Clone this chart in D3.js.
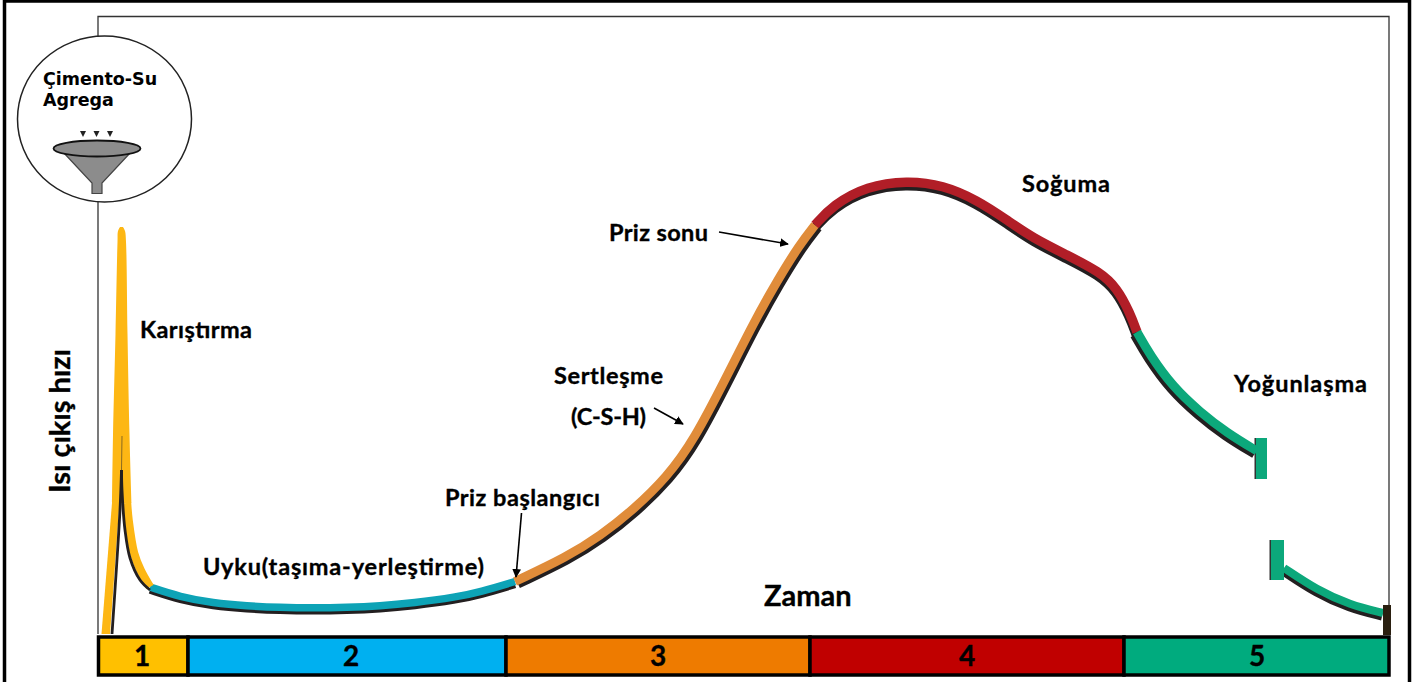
<!DOCTYPE html>
<html>
<head>
<meta charset="utf-8">
<script src="https://cdn.jsdelivr.net/npm/d3@7"></script>
<style>
    html, body { margin: 0; padding: 0; background: #fff; }
    svg { display: block; }
    text { font-family: Lato, "Open Sans", sans-serif; font-weight: 700; fill: #000; stroke: #000; stroke-width: 0.35px; }
</style>
</head>
<body>
<div id="chart"></div>
<script>
// Values. Time and heat are in arbitrary units (no ticks on the original)
const stageNames = ["1", "2", "3", "4", "5"];
const stageEdges = [1.5, 91, 409, 713, 1027, 1292];
const stageLabelTime = [45, 254, 561, 870, 1160];
const stageColors = ["#FFC000", "#00B0F0", "#EE7B00", "#C00000", "#00AB7E"];

const dormantTime = [53, 83, 116, 150, 183, 216, 250, 283, 316, 360, 383, 418];
const dormantHeat = [47, 37, 31, 28, 26.5, 26, 26.5, 28, 31, 37, 42, 52.5];
const hardenTime = [418, 470, 503, 536, 570, 597, 630, 656, 680, 703, 718];
const hardenHeat = [52.5, 77, 98, 124, 157, 194, 258, 310, 353, 390, 409];
const coolTime = [718, 736, 770, 810, 846, 880, 910, 936, 970, 1003, 1020, 1033, 1040];
const coolHeat = [409, 429, 448, 453.5, 449, 434, 414, 396, 379, 362, 346, 321, 302];
const denseTime = [1040, 1053, 1076, 1103, 1130, 1160];
const denseHeat = [302, 279, 247, 222, 201, 183];
const lateTime = [1187, 1220, 1253, 1286];
const lateHeat = [66, 44, 29, 21];

// mixing peak: edges of the wide yellow band
const peakHeat = [407, 403, 392, 300, 199, 131];
const peakLeft = [23, 21, 20.5, 18.5, 16, 15];
const peakRight = [26, 28, 29, 30.5, 32.5, 34.5];
const riseHeat = [131, 0];
const riseLeft = [15, 4.5];
const riseRight = [22.5, 13];
const fallTime = [30, 31.5, 37, 43.5, 53];
const fallHeat = [131, 114, 81, 64, 47];
const blackRiseTime = [15, 23, 24.5];
const blackRiseHeat = [0, 124, 164];
const blackFallTime = [24.5, 25, 28, 33, 43, 53];
const blackFallHeat = [164, 144, 104, 76, 54, 44];

// break in the time axis: [t0, t1, h0, h1]
const breakBars = [[1159, 1170, 155, 196], [1174, 1187, 54, 94]];

const labelTexts = ["Karıştırma", "Uyku(taşıma-yerleştirme)", "Priz başlangıcı", "Priz sonu", "Sertleşme", "(C-S-H)", "Soğuma", "Yoğunlaşma"];
const labelX = [140, 203, 445, 609, 554, 571, 1022, 1234];
const labelY = [338, 575, 506, 241, 384, 425, 192, 392];
const labelWidth = [112, 281, 155, 99, 109, 75, 88, 133];
// arrows: x1, y1, x2, y2
const arrows = [[719, 232, 788, 244], [521.5, 513, 516, 577], [654, 408, 683, 424]];

const svg = d3.select("#chart")
    .append("svg")
    .attr("width", 1426)
    .attr("height", 682);

const xScale = d3.scaleLinear().domain([0, 1292]).range([97, 1389]);
const yScale = d3.scaleLinear().domain([0, 406]).range([634, 228]);

const line = d3.line()
    .x(d => xScale(d[0]))
    .y(d => yScale(d[1]))
    .curve(d3.curveCatmullRom);

const smoothLine = d3.line()
    .x(d => xScale(d[0]))
    .y(d => yScale(d[1]))
    .curve(d3.curveBasis);

const band = d3.area()
    .y(d => yScale(d[0]))
    .x0(d => xScale(d[1]))
    .x1(d => xScale(d[2]))
    .curve(d3.curveCatmullRom);

//Outer picture border
svg.append("path")
    .attr("d", "M4.5,682V1H1409.5V682")
    .attr("fill", "none")
    .attr("stroke", "#000")
    .attr("stroke-width", 3.5);

//Plot frame
svg.append("path")
    .attr("d", "M98,634V16.5H1389V606")
    .attr("fill", "none")
    .attr("stroke", "#333")
    .attr("stroke-width", 1.3);

//Mixer circle with funnel
svg.append("ellipse")
    .attr("cx", 104.5).attr("cy", 119).attr("rx", 87).attr("ry", 83)
    .attr("fill", "#fff")
    .attr("stroke", "#222")
    .attr("stroke-width", 1.5);

["Çimento-Su", "Agrega"].forEach((t, i) => {
    svg.append("text")
        .attr("x", 43)
        .attr("y", i == 0 ? 85 : 106)
        .style("font-family", "'DejaVu Sans'")
        .style("font-size", "17.5px")
        .style("stroke-width", "0")
        .text(t);
});

svg.append("path")
    .attr("d", "M63,152L92,183V193.5H102V183L131,152Z")
    .attr("fill", "#8c8c8c")
    .attr("stroke", "#444")
    .attr("stroke-width", 1.2);
svg.append("ellipse")
    .attr("cx", 97).attr("cy", 148.5).attr("rx", 43.5).attr("ry", 8)
    .attr("fill", "#8c8c8c")
    .attr("stroke", "#111")
    .attr("stroke-width", 1.8);
[83, 96.5, 110].forEach(x => {
    svg.append("path")
        .attr("d", `M${x - 3},131H${x + 3}L${x},137Z`)
        .attr("fill", "#222");
});

//Black curve sits under the coloured one, pushed out to the lower side
const phases = [
    {t: dormantTime, h: dormantHeat, color: "#0DA3B6", width: 7.5, shift: "translate(0,3)"},
    {t: hardenTime, h: hardenHeat, color: "#E08C3A", width: 9, shift: "translate(3,2.5)"},
    {t: coolTime, h: coolHeat, color: "#B11E27", width: 9.5, shift: "translate(-0.5,3.5)"},
    {t: denseTime, h: denseHeat, color: "#0CA87B", width: 9, shift: "translate(-2.5,3)"},
    {t: lateTime, h: lateHeat, color: "#0CA87B", width: 8, shift: "translate(-1,3.5)"}
];

svg.selectAll(".under")
    .data(phases)
    .enter()
    .append("path")
    .attr("class", "under")
    .attr("d", d => smoothLine(d3.zip(d.t, d.h)))
    .attr("transform", d => d.shift)
    .attr("fill", "none")
    .attr("stroke", "#231F20")
    .attr("stroke-width", d => d.width);

svg.selectAll(".breakShadow")
    .data(breakBars)
    .enter()
    .append("rect")
    .attr("class", "breakShadow")
    .attr("x", d => xScale(d[0]) - 1.5)
    .attr("y", d => yScale(d[3]))
    .attr("width", 3)
    .attr("height", d => yScale(d[2]) - yScale(d[3]))
    .attr("fill", "#333");

svg.selectAll(".phase")
    .data(phases)
    .enter()
    .append("path")
    .attr("class", "phase")
    .attr("d", d => smoothLine(d3.zip(d.t, d.h)))
    .attr("fill", "none")
    .attr("stroke", d => d.color)
    .attr("stroke-width", d => d.width);

svg.selectAll(".breakBar")
    .data(breakBars)
    .enter()
    .append("rect")
    .attr("class", "breakBar")
    .attr("x", d => xScale(d[0]))
    .attr("y", d => yScale(d[3]))
    .attr("width", d => xScale(d[1]) - xScale(d[0]))
    .attr("height", d => yScale(d[2]) - yScale(d[3]))
    .attr("fill", "#0CA87B");

//Dark stub at the end of the curve
svg.append("rect")
    .attr("x", xScale(1286))
    .attr("y", yScale(29))
    .attr("width", xScale(1294) - xScale(1286))
    .attr("height", yScale(-1) - yScale(29))
    .attr("fill", "#2A1F10");

//Mixing peak
svg.append("path")
    .attr("d", band(d3.zip(peakHeat, peakLeft, peakRight)))
    .attr("fill", "#FDB714");
svg.append("path")
    .attr("d", band(d3.zip(riseHeat, riseLeft, riseRight)))
    .attr("fill", "#FDB714");
svg.append("path")
    .attr("d", line(d3.zip(fallTime, fallHeat)))
    .attr("fill", "none")
    .attr("stroke", "#FDB714")
    .attr("stroke-width", 8.5);

svg.append("path")
    .attr("d", line(d3.zip(blackRiseTime, blackRiseHeat)))
    .attr("fill", "none")
    .attr("stroke", "#231F20")
    .attr("stroke-width", 2.8);
svg.append("path")
    .attr("d", line(d3.zip(blackFallTime, blackFallHeat)))
    .attr("fill", "none")
    .attr("stroke", "#231F20")
    .attr("stroke-width", 2.8);
svg.append("line")
    .attr("x1", xScale(25)).attr("y1", yScale(198))
    .attr("x2", xScale(24.5)).attr("y2", yScale(164))
    .attr("stroke", "#8a6a20")
    .attr("stroke-width", 1);

//Stage bar under the plot
const stages = stageNames.map((name, i) => ({name: name, t0: stageEdges[i], t1: stageEdges[i + 1], color: stageColors[i], labelT: stageLabelTime[i]}));

svg.selectAll(".stage")
    .data(stages)
    .enter()
    .append("rect")
    .attr("class", "stage")
    .attr("x", d => xScale(d.t0))
    .attr("y", 637)
    .attr("width", d => xScale(d.t1) - xScale(d.t0))
    .attr("height", 38)
    .attr("fill", d => d.color)
    .attr("stroke", "#000")
    .attr("stroke-width", 3.5);

svg.selectAll(".stageLabel")
    .data(stages)
    .enter()
    .append("text")
    .attr("class", "stageLabel")
    .attr("x", d => xScale(d.labelT))
    .attr("y", 666)
    .attr("text-anchor", "middle")
    .style("font-size", "28px")
    .text(d => d.name);

//Labels
svg.selectAll(".note")
    .data(labelTexts)
    .enter()
    .append("text")
    .attr("class", "note")
    .attr("x", (d, i) => labelX[i])
    .attr("y", (d, i) => labelY[i])
    .attr("textLength", (d, i) => labelWidth[i])
    .attr("lengthAdjust", "spacing")
    .style("font-size", "23.5px")
    .text(d => d);

svg.append("text")
    .attr("x", 764)
    .attr("y", 606)
    .style("font-size", "29px")
    .text("Zaman");

svg.append("text")
    .attr("transform", "translate(70,493) rotate(-90)")
    .style("font-size", "29px")
    .text("Isı çıkış hızı");

//Arrows
svg.append("defs")
    .append("marker")
    .attr("id", "head")
    .attr("viewBox", "0 0 10 10")
    .attr("refX", 9)
    .attr("refY", 5)
    .attr("markerWidth", 5.5)
    .attr("markerHeight", 5.5)
    .attr("orient", "auto")
    .append("path")
    .attr("d", "M0,0L10,5L0,10Z")
    .attr("fill", "#000");

svg.selectAll(".arrow")
    .data(arrows)
    .enter()
    .append("line")
    .attr("class", "arrow")
    .attr("x1", d => d[0])
    .attr("y1", d => d[1])
    .attr("x2", d => d[2])
    .attr("y2", d => d[3])
    .attr("stroke", "#000")
    .attr("stroke-width", 1.6)
    .attr("marker-end", "url(#head)");
</script>
</body>
</html>
